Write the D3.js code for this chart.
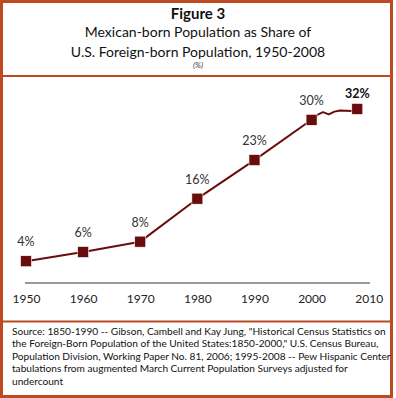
<!DOCTYPE html>
<html>
<head>
<meta charset="utf-8">
<script src="https://cdn.jsdelivr.net/npm/d3@7"></script>
<style>
  body { margin: 0; background: #fff; }
  svg text { font-family: Lato, "Open Sans", sans-serif; }
</style>
</head>
<body>
<div id="chart"></div>
<script>
// decade points (with markers + labels)
var years = [1950, 1960, 1970, 1980, 1990, 2000, 2008];
var shares = [4.0, 5.7, 7.6, 15.5, 22.6, 30.0, 32.0];
var shareLabels = ['4%', '6%', '8%', '16%', '23%', '30%', '32%'];

// annual estimates 2000-2008 (the wiggly end of the line)
var annualYears = [2000, 2001, 2002, 2003, 2004, 2005, 2006, 2007, 2008];
var annualShares = [30.0, 30.9, 31.4, 31.0, 31.5, 31.7, 31.65, 31.6, 32.0];

var xTicks = [1950, 1960, 1970, 1980, 1990, 2000, 2010];

var sourceLines = [
  'Source: 1850-1990 -- Gibson, Cambell and Kay Jung, "Historical Census Statistics on',
  'the Foreign-Born Population of the United States:1850-2000," U.S. Census Bureau,',
  'Population Division, Working Paper No. 81, 2006; 1995-2008 -- Pew Hispanic Center',
  'tabulations from augmented March Current Population Surveys adjusted for',
  'undercount'
];

var width = 396, height = 398;
var frameColor = '#bd4a20', lineColor = '#6b0c0c';

var svg = d3.select('#chart')
  .append('svg')
  .attr('width', width)
  .attr('height', height);

// frame + dividers
svg.append('rect')
  .attr('x', 1.5).attr('y', 1.5)
  .attr('width', 390).attr('height', 395)
  .attr('fill', 'none')
  .attr('stroke', frameColor)
  .attr('stroke-width', 3);

[76, 321.5].forEach(function(y) {
  svg.append('line')
    .attr('x1', 1.5).attr('x2', 391.5)
    .attr('y1', y).attr('y2', y)
    .attr('stroke', frameColor)
    .attr('stroke-width', 2);
});

// titles
svg.append('text')
  .attr('x', 198).attr('y', 18.5)
  .attr('text-anchor', 'middle')
  .attr('font-size', '15px')
  .attr('font-weight', 'bold')
  .attr('fill', '#111')
  .text('Figure 3');

svg.append('text')
  .attr('x', 198).attr('y', 37)
  .attr('text-anchor', 'middle')
  .attr('font-size', '14px')
  .attr('fill', '#111')
  .text('Mexican-born Population as Share of');

svg.append('text')
  .attr('x', 198).attr('y', 57)
  .attr('text-anchor', 'middle')
  .attr('font-size', '14px')
  .attr('fill', '#111')
  .text('U.S. Foreign-born Population, 1950-2008');

svg.append('text')
  .attr('x', 198).attr('y', 68)
  .attr('text-anchor', 'middle')
  .attr('font-size', '8px')
  .attr('font-style', 'italic')
  .attr('fill', '#333')
  .text('(%)');

// scales
var xScale = d3.scaleLinear().domain([1950, 2010]).range([26, 368.7]);
var yScale = d3.scaleLinear().domain([0, 35]).range([283, 92.6]);

// x axis
var xAxis = svg.append('g')
  .attr('transform', 'translate(0,283)')
  .call(d3.axisBottom(xScale)
    .tickValues(xTicks)
    .tickFormat(d3.format('d'))
    .tickSize(0)
    .tickPadding(11));

xAxis.select('.domain')
  .attr('d', 'M25,0H370')
  .attr('stroke', '#333')
  .attr('stroke-width', 1);

xAxis.selectAll('text')
  .attr('font-size', '12px')
  .attr('font-family', 'Lato, sans-serif')
  .attr('fill', '#222');

// line: decades up to 2000, then annual
var pts = [];
years.forEach(function(y, i) {
  if (y < 2000) pts.push([y, shares[i]]);
});
annualYears.forEach(function(y, i) {
  pts.push([y, annualShares[i]]);
});

var line = d3.line()
  .x(function(d) { return xScale(d[0]); })
  .y(function(d) { return yScale(d[1]); });

svg.append('path')
  .datum(pts)
  .attr('d', line)
  .attr('fill', 'none')
  .attr('stroke', lineColor)
  .attr('stroke-width', 2)
  .attr('stroke-linejoin', 'round');

// markers
var ms = 11;
svg.selectAll('.marker')
  .data(years)
  .enter()
  .append('rect')
  .attr('class', 'marker')
  .attr('x', function(d) { return xScale(d) - ms / 2; })
  .attr('y', function(d, i) { return yScale(shares[i]) - ms / 2; })
  .attr('width', ms)
  .attr('height', ms)
  .attr('fill', lineColor)
  .attr('stroke', '#fff')
  .attr('stroke-width', 0.6);

// value labels
svg.selectAll('.val-label')
  .data(years)
  .enter()
  .append('text')
  .attr('class', 'val-label')
  .attr('x', function(d) { return xScale(d); })
  .attr('y', function(d, i) {
    return yScale(shares[i]) - (i === years.length - 1 ? 11 : 15);
  })
  .attr('text-anchor', 'middle')
  .attr('font-size', '12.5px')
  .attr('font-weight', function(d, i) { return i === years.length - 1 ? 'bold' : 'normal'; })
  .attr('fill', function(d, i) { return i === years.length - 1 ? '#111' : '#333'; })
  .text(function(d, i) { return shareLabels[i]; });

// source note: size the font so the first line fits the box
var src = svg.append('g')
  .selectAll('text')
  .data(sourceLines)
  .enter()
  .append('text')
  .attr('x', 12)
  .attr('y', function(d, i) { return 335 + i * 12.4; })
  .attr('font-size', '10px')
  .attr('fill', '#111')
  .text(function(d) { return d; });

var firstLen = src.node().getComputedTextLength();
src.attr('font-size', (10 * 374 / firstLen) + 'px');
</script>
</body>
</html>
